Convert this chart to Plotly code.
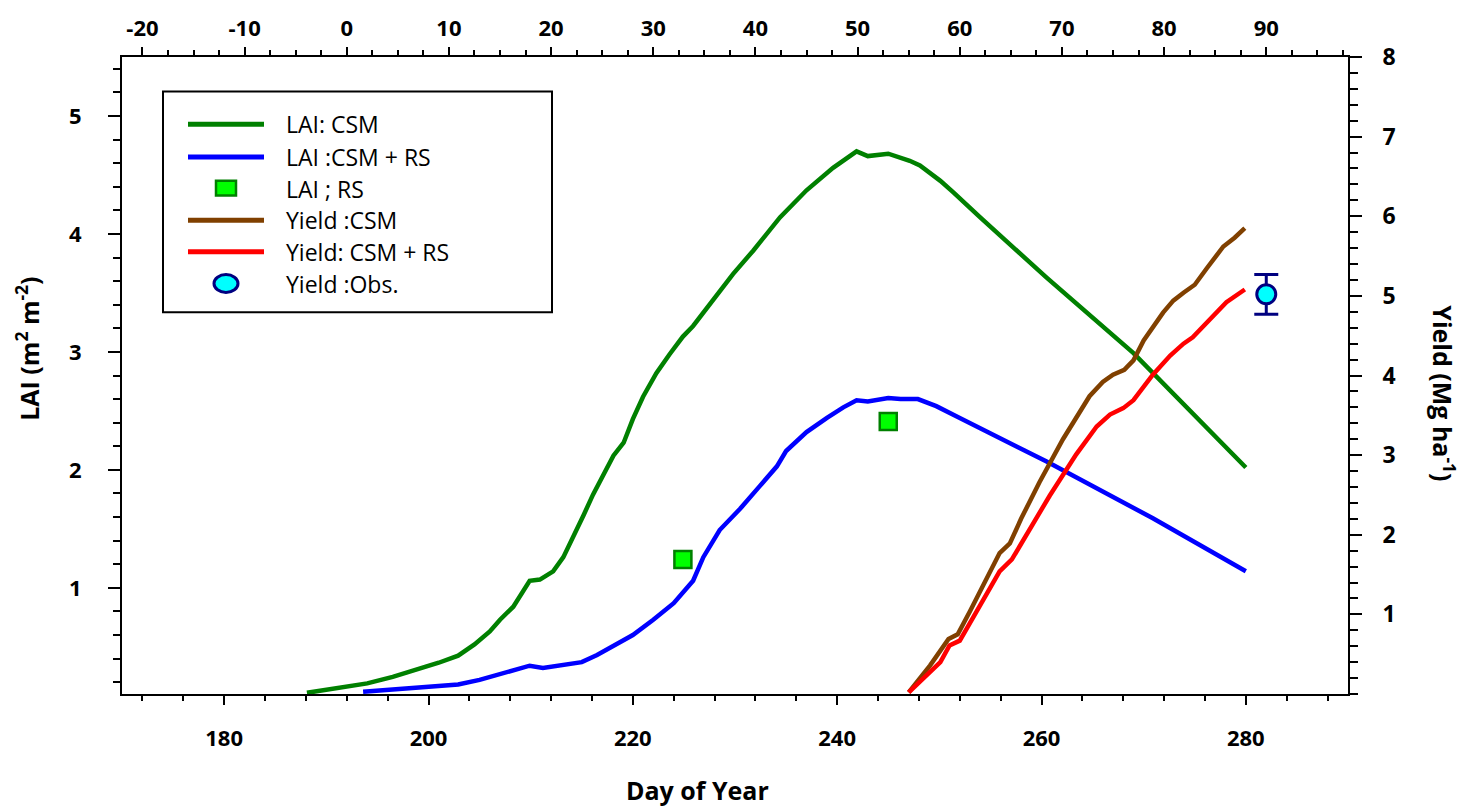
import plotly.graph_objects as go

# ---------------- data ----------------
lai_csm_doy = [188.1, 191.0, 194.0, 196.5, 199.0, 201.0, 202.9, 204.5, 206.0, 207.0, 208.3, 209.9,
               210.9, 212.2, 213.2, 214.2, 215.2, 216.1, 217.0, 218.1, 219.1, 220.0, 221.0, 222.3,
               223.6, 224.9, 225.9, 227.9, 229.8, 231.8, 234.4, 237.0, 238.0, 239.6, 241.9, 243.0,
               245.0, 246.2, 247.1, 248.1, 250.1, 251.4, 254.0, 260.5, 269.0, 280.0]
lai_csm = [0.11, 0.15, 0.19, 0.245, 0.31, 0.365, 0.425, 0.52, 0.63, 0.73, 0.84, 1.06,
           1.07, 1.14, 1.26, 1.43, 1.62, 1.79, 1.94, 2.12, 2.23, 2.43, 2.62, 2.82,
           2.98, 3.13, 3.22, 3.45, 3.66, 3.86, 4.14, 4.37, 4.44, 4.56, 4.70, 4.66,
           4.68, 4.65, 4.62, 4.58, 4.45, 4.35, 4.14, 3.63, 2.99, 2.02]

lai_csm_rs_doy = [193.6, 198.0, 202.9, 205.0, 207.0, 208.5, 209.9, 211.2, 212.9, 215.0, 216.5, 217.8,
                  220.0, 222.0, 224.0, 225.9, 226.9, 228.5, 230.5, 232.4, 234.1, 235.0, 237.0, 239.0,
                  240.6, 241.9, 243.0, 245.0, 246.2, 247.9, 249.7, 252.0, 255.9, 260.5, 270.9, 280.0]
lai_csm_rs = [0.12, 0.15, 0.18, 0.22, 0.27, 0.30, 0.34, 0.32, 0.34, 0.37, 0.43, 0.49,
              0.60, 0.73, 0.87, 1.06, 1.26, 1.49, 1.67, 1.86, 2.03, 2.16, 2.32, 2.44,
              2.53, 2.59, 2.58, 2.61, 2.60, 2.60, 2.54, 2.44, 2.27, 2.07, 1.59, 1.14]

lai_rs_doy = [224.9, 245.0]
lai_rs = [1.24, 2.41]

yield_csm_doy = [247.0, 249.1, 250.9, 251.8, 253.0, 255.9, 256.9, 258.0, 259.8, 262.1, 264.7, 266.0,
                 267.0, 268.1, 269.0, 270.0, 271.9, 272.9, 273.9, 275.0, 276.2, 277.8, 278.9, 279.9]
yield_csm = [0.02, 0.36, 0.69, 0.75, 1.04, 1.77, 1.89, 2.20, 2.66, 3.20, 3.74, 3.92,
             4.01, 4.07, 4.19, 4.44, 4.79, 4.94, 5.04, 5.14, 5.35, 5.62, 5.73, 5.85]

yield_csm_rs_doy = [247.0, 248.8, 250.1, 251.0, 252.0, 253.3, 255.9, 257.1, 258.9, 260.8, 263.4, 265.4,
                    266.7, 268.0, 269.0, 270.9, 272.6, 273.9, 274.8, 276.5, 278.1, 279.9]
yield_csm_rs = [0.02, 0.24, 0.40, 0.61, 0.67, 0.96, 1.54, 1.69, 2.08, 2.49, 3.01, 3.36,
                3.51, 3.59, 3.69, 4.01, 4.25, 4.40, 4.48, 4.71, 4.92, 5.08]

yield_obs_doy = [282.0]
yield_obs = [5.02]
yield_obs_err = [0.25]

bottom_ticks = [180, 200, 220, 240, 260, 280]
top_ticks = [-20, -10, 0, 10, 20, 30, 40, 50, 60, 70, 80, 90]
top_tick_text = ["-20", "-10", "0", "10", "20", "30", "40", "50", "60", "70", "80", "90"]
top_range = [-22, 98]
lai_ticks = [1, 2, 3, 4, 5]
yield_ticks = [1, 2, 3, 4, 5, 6, 7, 8]

legend_labels = ["LAI: CSM", "LAI :CSM + RS", "LAI ; RS", "Yield :CSM", "Yield: CSM + RS", "Yield :Obs."]

# ---------------- style ----------------
GREEN = "#008000"
BLUE = "#0000ff"
BROWN = "#804000"
RED = "#ff0000"
LIME = "#00ff00"
CYAN = "#00ffff"
NAVY = "#000080"
FONT = "Open Sans"

W, H = 1464, 806
L, R, T, B = 122, 1348, 50, 694


def px(x):
    return (x - L) / (R - L)


def py(y):
    return (B - y) / (B - T)


fig = go.Figure()
fig.add_trace(go.Scatter(x=lai_csm_doy, y=lai_csm, mode="lines",
                         line=dict(color=GREEN, width=4.5), xaxis="x", yaxis="y"))
fig.add_trace(go.Scatter(x=lai_csm_rs_doy, y=lai_csm_rs, mode="lines",
                         line=dict(color=BLUE, width=4.5), xaxis="x", yaxis="y"))
fig.add_trace(go.Scatter(x=lai_rs_doy, y=lai_rs, mode="markers",
                         marker=dict(symbol="square", size=17, color=LIME,
                                     line=dict(color=GREEN, width=2.5)),
                         xaxis="x", yaxis="y"))
fig.add_trace(go.Scatter(x=yield_csm_doy, y=yield_csm, mode="lines",
                         line=dict(color=BROWN, width=4.5), xaxis="x", yaxis="y2"))
fig.add_trace(go.Scatter(x=yield_csm_rs_doy, y=yield_csm_rs, mode="lines",
                         line=dict(color=RED, width=4.5), xaxis="x", yaxis="y2"))
fig.add_trace(go.Scatter(x=yield_obs_doy, y=yield_obs, mode="markers",
                         error_y=dict(type="data", array=yield_obs_err, color=NAVY,
                                      thickness=3, width=12),
                         marker=dict(symbol="circle", size=19, color=CYAN,
                                     line=dict(color=NAVY, width=3)),
                         xaxis="x", yaxis="y2"))
# invisible trace so that the top (days-after) axis is drawn
fig.add_trace(go.Scatter(x=top_range, y=[None, None], mode="markers", xaxis="x2", yaxis="y",
                         marker=dict(opacity=0), hoverinfo="skip", showlegend=False))

axis_common = dict(showline=True, linecolor="black", linewidth=2, ticks="outside",
                   tickcolor="black", tickwidth=2, showgrid=False, zeroline=False)

bold_tick = dict(family=FONT, size=22, color="black", weight="bold")

fig.update_layout(
    width=W, height=H,
    margin=dict(l=L, r=W - R, t=T, b=H - B),
    paper_bgcolor="white", plot_bgcolor="white",
    showlegend=False,
    xaxis=dict(range=[170, 290], tickmode="array", tickvals=bottom_ticks, ticklen=9,
               minor=dict(ticks="outside", tickmode="linear", tick0=0, dtick=4, ticklen=5,
                          tickwidth=2, tickcolor="black"),
               tickfont=bold_tick, ticklabelstandoff=15, **axis_common),
    xaxis2=dict(range=top_range, overlaying="x", side="top", anchor="y",
                tickmode="array", tickvals=top_ticks, ticktext=top_tick_text, ticklen=8,
                minor=dict(ticks="outside", tickmode="linear", tick0=0, dtick=2.5, ticklen=5,
                           tickwidth=2, tickcolor="black"),
                tickfont=bold_tick, ticklabelstandoff=2, **axis_common),
    yaxis=dict(range=[0.1, 5.5], tickmode="array", tickvals=lai_ticks, ticklen=12,
               minor=dict(ticks="outside", tickmode="linear", tick0=0, dtick=0.2, ticklen=7,
                          tickwidth=2, tickcolor="black"),
               tickfont=dict(family=FONT, size=22, color="black", weight="bold"),
               ticklabelstandoff=22, **axis_common),
    yaxis2=dict(range=[0, 8], overlaying="y", side="right", anchor="x",
                tickmode="array", tickvals=yield_ticks, ticklen=12,
                minor=dict(ticks="outside", tickmode="linear", tick0=0, dtick=0.2, ticklen=8,
                           tickwidth=2, tickcolor="black"),
                tickfont=dict(family=FONT, size=23, color="black", weight="bold"),
                ticklabelstandoff=16, **axis_common),
)

annotations = [
    dict(text="Day of Year", x=px(697), y=py(791), xref="paper", yref="paper",
         xanchor="center", yanchor="middle",
         showarrow=False, font=dict(family=FONT, size=25, color="black", weight="bold")),
    dict(text="LAI (m<sup>2</sup> m<sup>-2</sup>)", x=px(28), y=py(345), xref="paper", yref="paper",
         xanchor="center", yanchor="middle", textangle=-90, showarrow=False,
         font=dict(family=FONT, size=25, color="black", weight="bold")),
    dict(text="Yield (Mg ha<sup>-1</sup>)", x=px(1444), y=py(390), xref="paper", yref="paper",
         xanchor="center", yanchor="middle", textangle=90, showarrow=False,
         font=dict(family=FONT, size=25, color="black", weight="bold")),
]

# ---------------- custom legend ----------------
shapes = [dict(type="rect", xref="paper", yref="paper", x0=px(163), x1=px(552), y0=py(85), y1=py(308),
               line=dict(color="black", width=2), fillcolor="white", layer="above")]
row_y = [118, 151, 183, 215, 247, 279]
swatch_colors = [GREEN, BLUE, None, BROWN, RED, None]
for i, (lab, yy) in enumerate(zip(legend_labels, row_y)):
    c = swatch_colors[i]
    if c is not None:
        shapes.append(dict(type="line", xref="paper", yref="paper", x0=px(188), x1=px(264),
                           y0=py(yy), y1=py(yy), line=dict(color=c, width=5), layer="above"))
    annotations.append(dict(text=lab, x=px(284), y=py(yy), xref="paper", yref="paper",
                            xanchor="left", yanchor="middle", showarrow=False,
                            font=dict(family=FONT, size=23, color="black")))
# square swatch
shapes.append(dict(type="rect", xref="paper", yref="paper", x0=px(216), x1=px(236),
                   y0=py(175), y1=py(190), fillcolor=LIME, line=dict(color=GREEN, width=2.5),
                   layer="above"))
# ellipse swatch
shapes.append(dict(type="circle", xref="paper", yref="paper", x0=px(214), x1=px(238),
                   y0=py(270), y1=py(288), fillcolor=CYAN, line=dict(color=NAVY, width=3),
                   layer="above"))

fig.update_layout(annotations=annotations, shapes=shapes)

fig.write_html("out.html", config={"displayModeBar": False},
               post_script="document.body.style.margin='0px';")
